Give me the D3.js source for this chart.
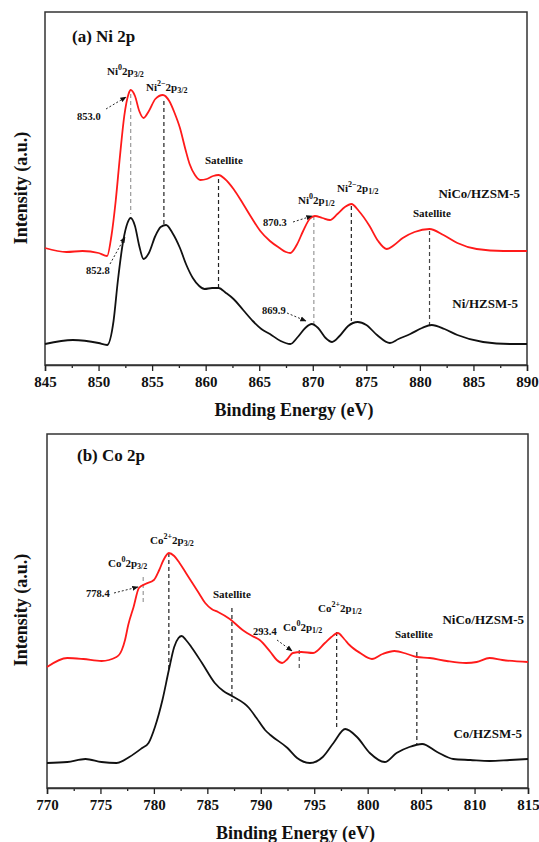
<!DOCTYPE html>
<html>
<head>
	<title></title>
</head>
<body style="margin:0; background:#fff">

<svg id="chart" width="539" height="842" font-family="Liberation Serif" font-weight="bold"></svg>

<script src="https://d3js.org/d3.v7.min.js"></script>
<script>
	// ---------------- data (energy eV, intensity a.u.) ----------------

	// Ni 2p, NiCo/HZSM-5
	const niNiCo = [[845,117],[847,113],[848.5,114],[850,112],[850.8,109],[851.2,129],[851.6,164],[852,209],
		[852.4,249],[852.8,271],[853,275],[853.4,269],[853.8,254],[854.2,247],[854.7,254],[855.3,266],[856,270],
		[856.6,264],[857.1,252],[857.6,237],[858.1,216],[858.5,201],[859,190],[859.5,185],[860.1,186],[860.7,189],
		[861.2,190],[861.8,186],[862.6,176],[863.5,161],[864.3,147],[865.1,134],[866,124],[866.9,117],[867.5,113],
		[867.9,112],[868.5,120],[869.1,134],[869.7,146],[870.2,149],[870.9,147],[871.6,145],[872.3,151],[873,158],
		[873.6,161],[874.3,154],[875.3,139],[876.1,124],[876.9,116],[877.6,120],[878.4,127],[879.5,133],[880.9,136],
		[882.2,130],[883.5,122],[885.3,116],[887.8,114],[890,114]]

	// Ni 2p, Ni/HZSM-5
	const niNi = [[845,21],[847.6,25],[850,22],[850.8,20],[851.4,44],[851.8,84],[852.3,124],[852.7,142],[853,147],
		[853.4,139],[853.8,119],[854.2,106],[854.7,112],[855.3,129],[855.8,138],[856.3,140],[856.9,132],[857.6,117],
		[858.2,100],[858.8,87],[859.4,79],[859.9,76],[860.6,77],[861.2,77],[861.9,72],[862.6,66],[863.5,55],
		[864.4,44],[865.2,36],[866,31],[867,24],[867.9,21],[868.6,28],[869.3,37],[869.9,41],[870.5,37],[871.2,27],
		[871.8,23],[872.5,29],[873.3,39],[874.2,43],[875,40],[876,30],[877.2,22],[878,26],[879.1,31],[880.2,37],
		[881.1,40],[882.3,36],[883.5,30],[885.9,23],[888.4,21],[890,21]]

	// Co 2p, NiCo/HZSM-5
	const coNiCo = [[770,121],[771.9,130],[773.4,129],[775.1,127],[776.5,131],[777,138],[777.3,148],[777.6,163],
		[778.1,181],[778.6,200],[779.2,204],[780,208],[780.5,218],[780.9,228],[781.4,235],[781.9,232],[782.4,225],
		[783,215],[783.6,205],[784.2,195],[784.8,185],[785.4,179],[786,176],[787.1,169],[788.3,158],[789.2,152],
		[789.9,148],[790.9,136],[791.5,128],[792,125],[792.5,129],[793,135],[793.8,136],[794.9,135],[796,145],
		[796.6,151],[797.2,155],[797.8,149],[798.3,143],[799.3,135],[800.4,129],[801.4,134],[802.5,137],[803.7,134],
		[804.6,131],[805.8,130],[807.4,127],[809.2,125],[810.2,126],[811.4,130],[812.6,128],[815,126]]

	// Co 2p, Co/HZSM-5
	const coCo = [[770,25],[771.9,26],[773.6,29],[775.1,26],[776.5,25],[777.7,31],[778.9,40],[779.5,45],[780.1,61],
		[780.8,88],[781.4,118],[781.9,141],[782.3,150],[782.6,152],[783,148],[783.5,141],[784.5,125],[785.7,105],
		[786.5,97],[787.3,92],[788.9,80],[789.6,70],[790.4,58],[790.9,53],[792.5,40],[793.4,30],[794.6,25],
		[795.8,31],[796.8,45],[797.9,59],[799,51],[800.2,35],[801.6,26],[802.7,35],[803.9,41],[805.1,44],[806.5,36],
		[808,29],[809.6,28],[811.4,27],[813.3,28],[815,29]]

	// peak drop lines: energy, top, bottom, tone
	const niDrops = [[853.0,271,151,'#999'],[856.1,264,139,'#222'],[861.2,186,77,'#222'],
		[870.1,149,41,'#999'],[873.6,159,44,'#222'],[880.9,134,40,'#444']]
	const coDrops = [[779.0,211,185,'#999'],[781.4,235,118,'#222'],[787.3,180,86,'#222'],
		[793.6,138,118,'#555'],[797.1,156,61,'#222'],[804.6,136,43,'#222']]

	const niTicks = [845, 850, 855, 860, 865, 870, 875, 880, 885, 890]
	const coTicks = [770, 775, 780, 785, 790, 795, 800, 805, 810, 815]

	const FONT = 'Liberation Serif'
	const svg = d3.select('#chart')

	// arrow head for the dashed pointers
	svg.append('defs').append('marker')
		.attr('id', 'arr')
		.attr('viewBox', '0 0 10 10')
		.attr('refX', 9).attr('refY', 5)
		.attr('markerWidth', 7).attr('markerHeight', 7)
		.attr('orient', 'auto')
		.append('path')
		.attr('d', 'M0,1 L10,5 L0,9 z')
		.attr('fill', '#111')

	function txt(g, size) {
		return g.append('text')
			.attr('font-family', FONT)
			.attr('font-weight', 'bold')
			.attr('font-size', size)
			.attr('fill', '#111')
	}

	function panel(opt) {
		const x = d3.scaleLinear().domain(opt.xDomain).range([opt.left, opt.right])
		const y = d3.scaleLinear().domain([0, opt.bottom - opt.top]).range([opt.bottom, opt.top])
		const g = svg.append('g')

		// frame
		g.append('rect')
			.attr('x', opt.left).attr('y', opt.top)
			.attr('width', opt.right - opt.left).attr('height', opt.bottom - opt.top)
			.attr('fill', 'none').attr('stroke', '#333').attr('stroke-width', 1.5)

		// x axis, minor ticks every 2.5
		const minor = d3.range(opt.xDomain[0], opt.xDomain[1] + 0.01, 2.5).filter(v => v % 5 !== 0)
		g.append('g')
			.attr('transform', `translate(0,${opt.bottom})`)
			.call(d3.axisBottom(x).tickValues(minor).tickSize(3).tickFormat(''))
			.call(a => a.select('.domain').remove())
			.selectAll('line').attr('stroke', '#222').attr('stroke-width', 1.3)
		const ax = g.append('g')
			.attr('transform', `translate(0,${opt.bottom})`)
			.call(d3.axisBottom(x).tickValues(opt.ticks).tickSize(6).tickPadding(5).tickFormat(d3.format('d')))
		ax.attr('font-family', FONT).attr('font-size', 15).attr('font-weight', 'bold')
		ax.select('.domain').attr('stroke', '#333').attr('stroke-width', 1.5)
		ax.selectAll('line').attr('stroke', '#222').attr('stroke-width', 1.3)
		ax.selectAll('text').attr('fill', '#111')

		txt(g, 18)
			.attr('x', (opt.left + opt.right) / 2 + 8).attr('y', opt.bottom + 51)
			.attr('text-anchor', 'middle')
			.text('Binding Energy (eV)')

		txt(g, 18)
			.attr('transform', `translate(27,${opt.yLabel}) rotate(-90)`)
			.attr('text-anchor', 'middle')
			.text('Intensity (a.u.)')

		txt(g, 17)
			.attr('x', opt.titleX).attr('y', opt.titleY)
			.text(opt.title)

		// drop lines
		g.selectAll('line.drop')
			.data(opt.drops)
			.enter()
			.append('line')
			.attr('x1', d => x(d[0])).attr('x2', d => x(d[0]))
			.attr('y1', d => y(d[1])).attr('y2', d => y(d[2]))
			.attr('stroke', d => d[3])
			.attr('stroke-width', 1.2)
			.attr('stroke-dasharray', '4,3')

		// curves
		const line = d3.line()
			.x(d => x(d[0]))
			.y(d => y(d[1]))
			.curve(d3.curveMonotoneX)
		opt.series.forEach(s => {
			g.append('path')
				.datum(s.data)
				.attr('d', line)
				.attr('fill', 'none')
				.attr('stroke', s.color)
				.attr('stroke-width', 1.8)
		})

		// labels
		opt.labels.forEach(l => {
			const t = txt(g, l.size || 11)
				.attr('x', l.x).attr('y', l.y)
			if (l.anchor) t.attr('text-anchor', l.anchor)
			if (l.parts) {
				// element, superscript charge, "2p", subscript level
				t.append('tspan').text(l.parts[0])
				t.append('tspan').attr('dy', -5).attr('font-size', 8).text(l.parts[1])
				t.append('tspan').attr('dy', 5).text('2')
				t.append('tspan').text('p')
				t.append('tspan').attr('dy', 2).attr('font-size', 8).text(l.parts[2])
			} else {
				t.text(l.text)
			}
		})

		// dashed pointers
		opt.arrows.forEach(a => {
			g.append('line')
				.attr('x1', a[0]).attr('y1', a[1]).attr('x2', a[2]).attr('y2', a[3])
				.attr('stroke', '#111').attr('stroke-width', 0.9)
				.attr('stroke-dasharray', '2,2')
				.attr('marker-end', 'url(#arr)')
		})
	}

	panel({
		xDomain: [845, 890], ticks: niTicks,
		left: 45, right: 527, top: 12, bottom: 365,
		yLabel: 188, title: '(a) Ni 2p', titleX: 72, titleY: 42,
		drops: niDrops,
		series: [{data: niNiCo, color: '#ff1a1a'}, {data: niNi, color: '#111'}],
		labels: [
			{x: 107, y: 75, parts: ['Ni', '0', '3/2']},
			{x: 146, y: 91, parts: ['Ni', '2\u2212', '3/2']},
			{x: 77, y: 120, text: '853.0', size: 10.5},
			{x: 205, y: 164, text: 'Satellite'},
			{x: 86, y: 274, text: '852.8', size: 10.5},
			{x: 263, y: 226, text: '870.3', size: 10.5},
			{x: 298, y: 204, parts: ['Ni', '0', '1/2']},
			{x: 337, y: 192, parts: ['Ni', '2\u2212', '1/2']},
			{x: 413, y: 217, text: 'Satellite'},
			{x: 520, y: 198, text: 'NiCo/HZSM-5', size: 13, anchor: 'end'},
			{x: 262, y: 314, text: '869.9', size: 10.5},
			{x: 518, y: 308, text: 'Ni/HZSM-5', size: 13, anchor: 'end'}
		],
		arrows: [[106, 109, 126, 97], [110, 264, 125, 237], [293, 222, 312, 216], [287, 313, 306, 321]]
	})

	panel({
		xDomain: [770, 815], ticks: coTicks,
		left: 47, right: 528, top: 434, bottom: 788,
		yLabel: 610, title: '(b) Co 2p', titleX: 77, titleY: 461,
		drops: coDrops,
		series: [{data: coNiCo, color: '#ff1a1a'}, {data: coCo, color: '#111'}],
		labels: [
			{x: 150, y: 544, parts: ['Co', '2+', '3/2']},
			{x: 108, y: 567, parts: ['Co', '0', '3/2']},
			{x: 86, y: 597, text: '778.4', size: 10.5},
			{x: 213, y: 598, text: 'Satellite'},
			{x: 253, y: 635, text: '293.4', size: 10.5},
			{x: 283, y: 631, parts: ['Co', '0', '1/2']},
			{x: 318, y: 612, parts: ['Co', '2+', '1/2']},
			{x: 395, y: 638, text: 'Satellite'},
			{x: 524, y: 624, text: 'NiCo/HZSM-5', size: 13, anchor: 'end'},
			{x: 522, y: 738, text: 'Co/HZSM-5', size: 13, anchor: 'end'}
		],
		arrows: [[114, 593, 138, 587], [277, 640, 292, 651]]
	})
</script>
</body>
</html>
